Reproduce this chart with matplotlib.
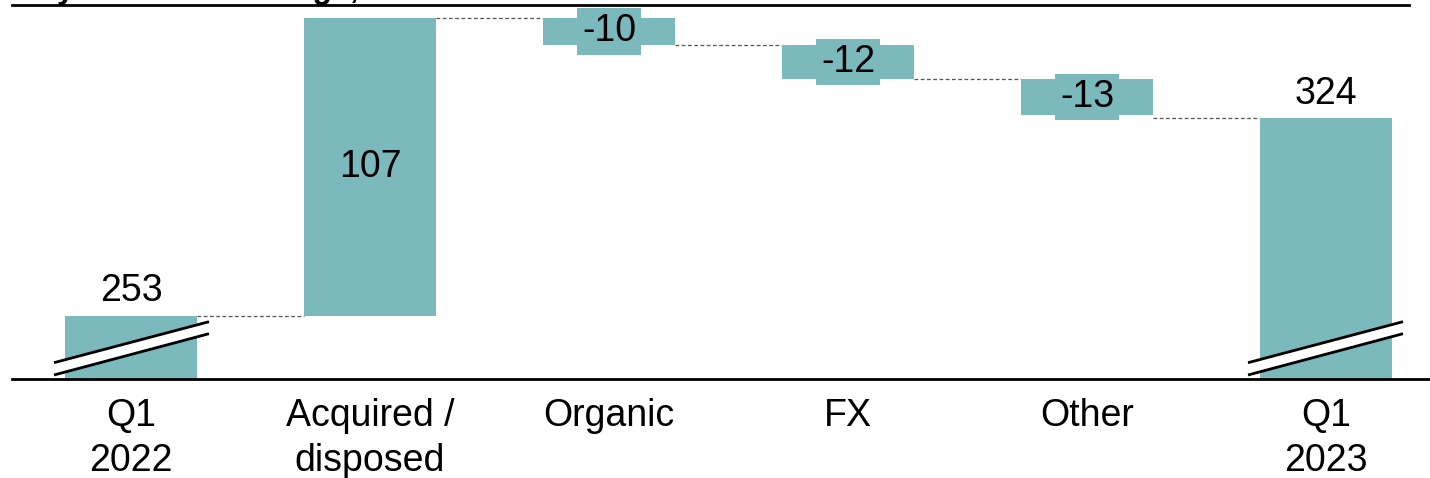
import matplotlib
matplotlib.use("Agg")
import matplotlib.pyplot as plt
from matplotlib.lines import Line2D
from matplotlib.patches import Polygon

categories = ["Q1\n2022", "Acquired /\ndisposed", "Organic", "FX", "Other", "Q1\n2023"]
start_total = 253
changes = [107, -10, -12, -13]
end_total = 324
y_axis_floor = 230.4
y_axis_top = 364.5

TEAL = "#7bb9bc"
W, H = 1430, 478
DPI = 100
plt.rcParams['font.family'] = ['Liberation Sans', 'DejaVu Sans']

fig = plt.figure(figsize=(W / DPI, H / DPI), dpi=DPI)
ax_left, ax_right, ax_top, ax_bot = 12, 1430, 5, 379
ax = fig.add_axes([ax_left / W, 1 - ax_bot / H, (ax_right - ax_left) / W, (ax_bot - ax_top) / H])
ax.set_xlim(-0.498, 5.435)
ax.set_ylim(y_axis_floor, y_axis_top)

bw = 0.556
fs = 27

bottoms, tops = [], []
bottoms.append(y_axis_floor); tops.append(start_total)
level = start_total
levels = [start_total]
for c in changes:
    new = level + c
    bottoms.append(min(level, new)); tops.append(max(level, new))
    level = new
    levels.append(level)
bottoms.append(y_axis_floor); tops.append(end_total)

xs = list(range(len(categories)))
for i in xs:
    ax.bar(i, tops[i] - bottoms[i], bottom=bottoms[i], width=bw, color=TEAL, zorder=2)

# connectors
for i in range(len(categories) - 1):
    yv = levels[i] if i < len(categories) - 2 else end_total
    ax.plot([i + bw / 2, i + 1 - bw / 2], [yv, yv], ls=(0, (3, 2)), color="#555555", lw=0.9, zorder=1)

# value labels
pt = 72 / DPI
ax.annotate(str(start_total), (0, start_total), xytext=(0, 25 * pt), textcoords="offset points",
            ha="center", va="center", fontsize=fs, zorder=4)
ax.annotate(str(end_total), (5, end_total), xytext=(0, 24 * pt), textcoords="offset points",
            ha="center", va="center", fontsize=fs, zorder=4)
for k, c in enumerate(changes):
    i = k + 1
    mid = (tops[i] + bottoms[i]) / 2
    ax.text(i, mid, f"{c}", ha="center", va="center", fontsize=fs, zorder=4,
            bbox=dict(boxstyle="square,pad=0.14", fc=TEAL, ec="none"))

# break marks
def px_to_data(px, py):
    return ax.transData.inverted().transform((px, H - py))

for (x0, x1) in [(54, 209), (1248, 1403)]:
    up = [px_to_data(x0, 362.7), px_to_data(x1, 321.7)]
    lo = [px_to_data(x0, 375), px_to_data(x1, 333.7)]
    poly = Polygon([up[0], up[1], lo[1], lo[0]], closed=True, fc="white", ec="none", zorder=3, clip_on=False)
    ax.add_patch(poly)
    for seg in (up, lo):
        ax.plot([seg[0][0], seg[1][0]], [seg[0][1], seg[1][1]], color="black", lw=2, zorder=3,
                solid_capstyle="butt", clip_on=False)

for s in ["top", "right", "left"]:
    ax.spines[s].set_visible(False)
ax.spines["bottom"].set_linewidth(2)
ax.set_yticks([])
ax.set_xticks(xs)
ax.set_xticklabels(categories, fontsize=fs, linespacing=1.32)
ax.tick_params(axis="x", length=0, pad=14)

# top rule and cut-off title
fig.add_artist(Line2D([12 / W, 1409 / W], [1 - 5 / H, 1 - 5 / H], color="black", lw=2))
fig.text(16 / W, 1 + 2 / H, "Key drivers of change, EURm", fontsize=23, fontweight="bold",
         ha="left", va="baseline")

fig.savefig("out.png", dpi=DPI)
